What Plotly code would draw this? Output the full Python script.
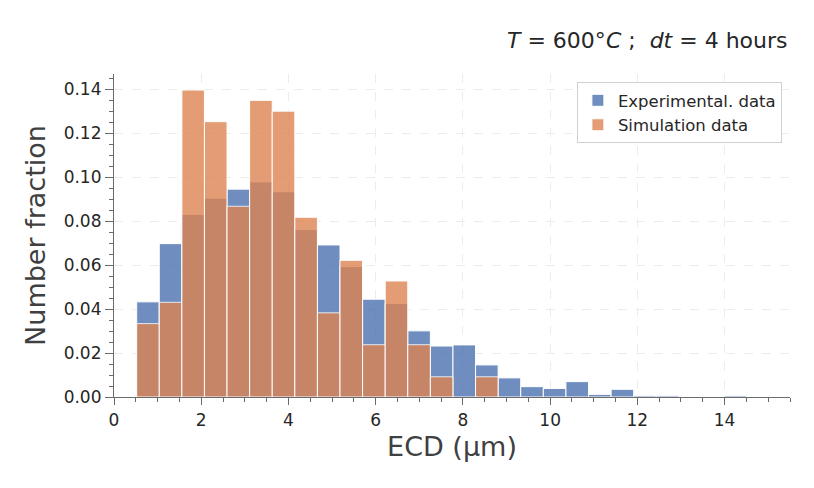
import plotly.graph_objects as go

# histogram bins (left edges + last right edge), ECD in micrometres
bin_edges = [0.520, 1.038, 1.556, 2.074, 2.592, 3.110, 3.628, 4.146, 4.664,
             5.182, 5.700, 6.218, 6.736, 7.254, 7.772, 8.290, 8.808, 9.326,
             9.844, 10.362, 10.880, 11.398, 11.916, 12.434, 12.952, 13.470,
             13.988, 14.506]

exp_frac = [0.0433, 0.0698, 0.0831, 0.0905, 0.0946, 0.0979, 0.0934, 0.0762,
            0.0692, 0.0594, 0.0445, 0.0426, 0.0301, 0.0232, 0.0237, 0.0146,
            0.0087, 0.0047, 0.0039, 0.0070, 0.0012, 0.0035, 0.0006, 0.0006,
            None, None, 0.0006]

sim_frac = [0.0334, 0.0431, 0.1397, 0.1253, 0.0868, 0.1350, 0.1301, 0.0818,
            0.0383, 0.0622, 0.0238, 0.0528, 0.0238, 0.0092, None, 0.0092,
            None, None, None, None, None, None, None, None, None, None, None]

x_ticks = [0, 2, 4, 6, 8, 10, 12, 14]
y_ticks = [0.00, 0.02, 0.04, 0.06, 0.08, 0.10, 0.12, 0.14]

left = bin_edges[:-1]
widths = [b - a for a, b in zip(bin_edges[:-1], bin_edges[1:])]

TXT = "#262626"
AX = "#6b6b6b"

fig = go.Figure()
fig.add_trace(go.Bar(x=left, y=exp_frac, width=widths, offset=0,
                     name="Experimental. data", opacity=0.8,
                     marker=dict(color="#4C72B0", line=dict(color="white", width=1))))
fig.add_trace(go.Bar(x=left, y=sim_frac, width=widths, offset=0,
                     name="Simulation data", opacity=0.8,
                     marker=dict(color="#DD8452", line=dict(color="white", width=1))))

fig.update_layout(
    width=814, height=488,
    barmode="overlay",
    plot_bgcolor="white", paper_bgcolor="white",
    margin=dict(l=106, r=32, t=66, b=99),
    font=dict(family="DejaVu Sans", color=TXT, size=16),
    legend=dict(x=0.988, y=0.975, xanchor="right", yanchor="top",
                bgcolor="white", bordercolor="#d0d0d0", borderwidth=1,
                font=dict(size=16.5, color=TXT), tracegroupgap=0),
    annotations=[dict(text="<i>T</i> = 600°<i>C</i> ;  <i>dt</i> = 4 hours",
                      xref="paper", yref="paper", x=1.0, y=1.105,
                      xanchor="right", yanchor="middle", showarrow=False,
                      font=dict(size=22, color=TXT))],
)

fig.update_xaxes(
    range=[0, 15.5], tickvals=x_ticks, ticks="outside", ticklen=7,
    tickwidth=1.2, tickcolor=AX, showline=True, linecolor=AX, linewidth=1.2,
    showgrid=True, gridcolor="#ececec", griddash="dash", zeroline=False,
    tickfont=dict(size=17, color=TXT),
    minor=dict(dtick=0.5, tick0=0, ticks="outside", ticklen=4, tickcolor=AX, showgrid=False),
    title=dict(text="ECD (μm)", font=dict(size=27, color="#404040"), standoff=8),
)
fig.update_yaxes(
    range=[0, 0.147], tickvals=y_ticks, tickformat=".2f", ticks="outside",
    ticklen=8, tickwidth=1.2, tickcolor=AX, showline=True, linecolor=AX,
    linewidth=1.2, showgrid=True, gridcolor="#ececec", griddash="dash",
    zeroline=False, tickfont=dict(size=17, color=TXT),
    minor=dict(dtick=0.005, tick0=0, ticks="outside", ticklen=4, tickcolor=AX, showgrid=False),
    title=dict(text="Number fraction", font=dict(size=27, color="#404040"), standoff=10),
)

fig.write_html("out.html")
